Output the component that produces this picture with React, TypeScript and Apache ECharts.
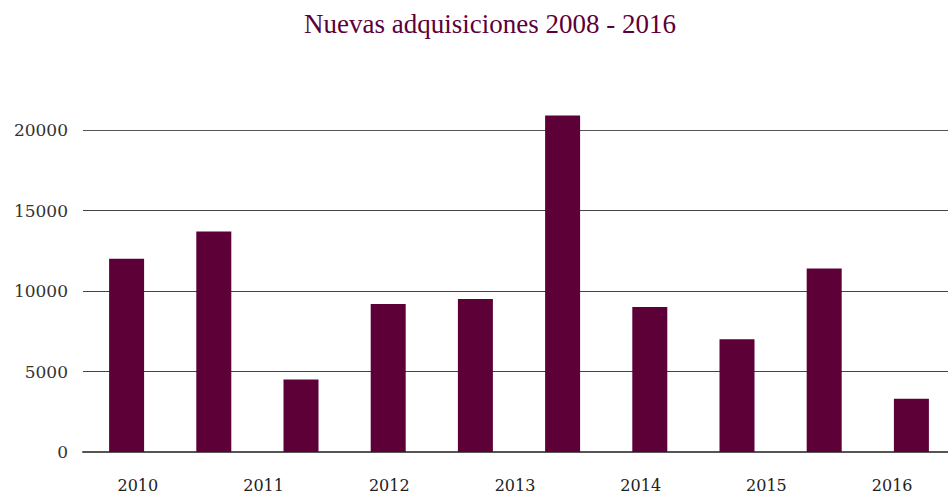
import React, { useEffect, useRef } from "react";
import * as echarts from "echarts";

const barSlots = ["b1", "b2", "b3", "b4", "b5", "b6", "b7", "b8", "b9", "b10"];
const barValues = [12000, 13700, 4500, 9200, 9500, 20900, 9000, 7000, 11400, 3300];
const yearLabels = ["2010", "2011", "2012", "2013", "2014", "2015", "2016"];
const titleText = "Nuevas adquisiciones 2008 - 2016";

export default function App() {
  const ref = useRef<HTMLDivElement>(null);
  useEffect(() => {
    document.body.style.margin = "0";
    const chart = echarts.init(ref.current!, null, { renderer: "svg" });
    const font = "'Liberation Serif', 'DejaVu Serif', serif";
    const labelFont = "'DejaVu Serif', 'Liberation Serif', serif";
    chart.setOption({
      animation: false,
      title: {
        text: titleText,
        left: 485,
        top: 5,
        textAlign: "center",
        textStyle: { fontFamily: font, fontSize: 27, fontWeight: "normal", color: "#5e0038" },
      },
      grid: [
        { left: 83, right: 0, top: 49.5, bottom: 46 },
        { left: 75, right: 0, top: 49.5, bottom: 46 },
      ],
      xAxis: [
        {
          type: "category",
          gridIndex: 0,
          data: barSlots,
          axisLine: { show: true, lineStyle: { color: "#555", width: 2 } },
          axisTick: { show: false },
          axisLabel: { show: false },
        },
        {
          type: "category",
          gridIndex: 1,
          data: yearLabels,
          axisLine: { show: false },
          axisTick: { show: false },
          axisLabel: { fontFamily: labelFont, fontSize: 16, color: "#222", margin: 25 },
        },
      ],
      yAxis: [
        {
          type: "value",
          gridIndex: 0,
          min: 0,
          max: 25000,
          interval: 5000,
          axisLine: { show: false },
          axisTick: { show: false },
          axisLabel: {
            fontFamily: labelFont,
            fontSize: 17,
            color: "#333",
            margin: 15,
            formatter: (v: number) => (v > 20000 ? "" : String(v)),
          },
          splitLine: {
            lineStyle: {
              color: ["#555", "#444", "#444", "#444", "#555", "rgba(0,0,0,0)"],
              width: 1,
            },
          },
        },
        {
          type: "value",
          gridIndex: 1,
          show: false,
          splitLine: { show: false },
        },
      ],
      series: [
        {
          type: "bar",
          xAxisIndex: 0,
          yAxisIndex: 0,
          data: barValues,
          barWidth: 35,
          itemStyle: { color: "#5e0038" },
        },
      ],
    });
    return () => chart.dispose();
  }, []);
  return (
    <div style={{ position: "absolute", left: 0, top: 0, width: 948, height: 498, overflow: "hidden" }}>
      <div ref={ref} style={{ width: 955, height: 498 }} />
    </div>
  );
}
